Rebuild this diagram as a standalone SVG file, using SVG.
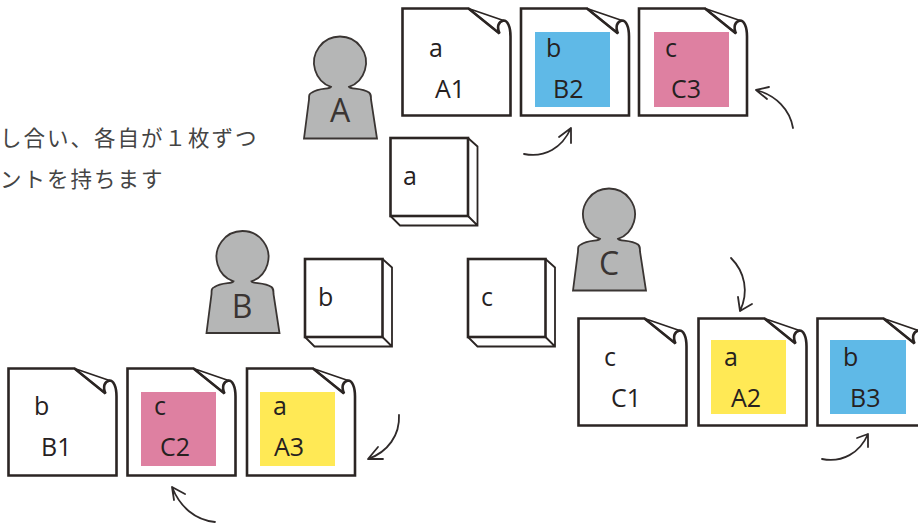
<svg xmlns="http://www.w3.org/2000/svg" xmlns:xlink="http://www.w3.org/1999/xlink" width="918" height="524" viewBox="0 0 918 524">
<style>
text{font-family:"Open Sans","Noto Sans",sans-serif;fill:#26211f}
.l{font-size:25px}
.d{fill:#fff;stroke:#2b2523;stroke-width:2.6;stroke-linejoin:miter}
.t{fill:none;stroke:#2b2523;stroke-width:1.8}
.p{fill:#b5b6b6;stroke:#3a3533;stroke-width:1.8}
.n{font-size:32px;fill:#3a3533}
.a{fill:none;stroke:#2f2a2a;stroke-width:1.8;stroke-linecap:round;stroke-linejoin:round}
.j{font-family:"Noto Sans CJK JP",sans-serif;font-size:21.500px;letter-spacing:2px;fill:#444}
</style>
<defs>
<g id="doc">
<path class="d" d="M108 28V107H0V0H66L97 25C94 18 96 13 101 12C105 12 108 18 108 28Z"/>
<path class="t" d="M66 0L101 12M66 0L97 25"/>
</g>
<path id="person" class="p" d="M-9 24.400A26 26 0 1 1 9 24.400C10 27 22 25 29 30C31 32 31 33 31 37L37 76H-36L-31 37C-31 33 -31 31 -28 30C-21 25 -10 27 -9 24.400Z"/>
<g id="box">
<rect class="d" width="77.500" height="78"/>
<path class="t" d="M77.500 0L87 8.500V87.500H9.500L0 78M87 87.500L77.500 78"/>
</g>
</defs>
<g id="caption">
<text class="j" x="0" y="146">し合い、各自が１枚ずつ</text>
<text class="j" x="0" y="187">ントを持ちます</text>
</g>
<g id="person-A"><use href="#person" x="340" y="62.500"/><text class="n" x="340" y="122" text-anchor="middle">A</text></g>
<g id="person-B"><use href="#person" x="242.500" y="257"/><text class="n" x="242" y="318" text-anchor="middle">B</text></g>
<g id="person-C"><use href="#person" x="609" y="214.500"/><text class="n" x="609" y="275" text-anchor="middle">C</text></g>
<g id="box-a"><use href="#box" x="390.500" y="138"/><text class="l" x="403" y="185">a</text></g>
<g id="box-b"><use href="#box" x="305" y="259"/><text class="l" x="318" y="306">b</text></g>
<g id="box-c"><use href="#box" x="468" y="259"/><text class="l" x="481" y="306">c</text></g>
<g id="doc-A1"><use href="#doc" x="402.500" y="8.500"/><text class="l" x="429" y="57">a</text><text class="l" x="435" y="98">A1</text></g>
<g id="doc-B2"><use href="#doc" x="521" y="8.500"/><rect x="535" y="32" width="75" height="75" fill="#5fb9e7"/><text class="l" x="546" y="57">b</text><text class="l" x="553" y="98">B2</text></g>
<g id="doc-C3"><use href="#doc" x="639" y="8.500"/><rect x="654" y="32" width="75" height="75" fill="#de80a1"/><text class="l" x="665" y="57">c</text><text class="l" x="671" y="98">C3</text></g>
<g id="doc-B1"><use href="#doc" x="8.500" y="368.500"/><text class="l" x="34" y="415">b</text><text class="l" x="41" y="456">B1</text></g>
<g id="doc-C2"><use href="#doc" x="127.500" y="368.500"/><rect x="141" y="392" width="75" height="74" fill="#de80a1"/><text class="l" x="154" y="415">c</text><text class="l" x="160" y="456">C2</text></g>
<g id="doc-A3"><use href="#doc" x="247" y="368.500"/><rect x="260" y="392" width="75" height="74" fill="#ffe955"/><text class="l" x="273" y="415">a</text><text class="l" x="274" y="456">A3</text></g>
<g id="doc-C1"><use href="#doc" x="578.500" y="318.500"/><text class="l" x="604" y="366">c</text><text class="l" x="611" y="407">C1</text></g>
<g id="doc-A2"><use href="#doc" x="698.500" y="318.500"/><rect x="711" y="340" width="75" height="74" fill="#ffe955"/><text class="l" x="724" y="366">a</text><text class="l" x="731" y="407">A2</text></g>
<g id="doc-B3"><use href="#doc" x="817.500" y="318.500"/><rect x="830" y="340" width="76" height="74" fill="#5fb9e7"/><text class="l" x="843" y="366">b</text><text class="l" x="850" y="407">B3</text></g>
<g id="connectors">
<path class="a" d="M524 154C545 158 562 148 571 128M559 137L571 128L571 143"/>
<path class="a" d="M793 128C790 110 776 95 756 90M769 87L756 90L767 99"/>
<path class="a" d="M215 522C195 520 180 507 172 487M185 494L172 487L174 500"/>
<path class="a" d="M399 415C400 435 388 452 368 459M378 447L368 459L383 459"/>
<path class="a" d="M731 258C745 272 749 292 740 311M738 297L740 311L752 304"/>
<path class="a" d="M822 459C842 463 860 453 868 434M857 438L868 434L868 447"/>
</g>
</svg>
